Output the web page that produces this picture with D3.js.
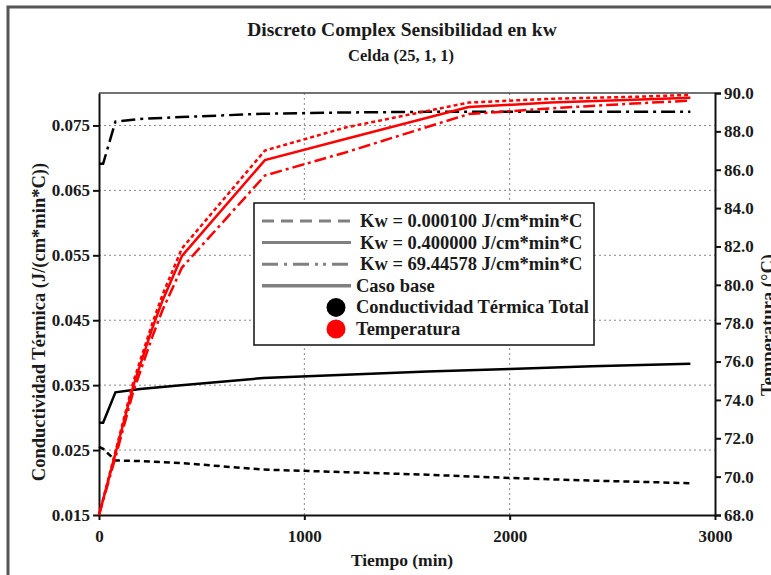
<!DOCTYPE html>
<html>
<head>
<meta charset="utf-8">
<script src="https://cdn.jsdelivr.net/npm/d3@7"></script>
<style>
  body { margin: 0; background: #fff; }
  svg text { font-family: "Liberation Serif", "Times New Roman", serif; font-weight: bold; fill: #1a1a1a; }
</style>
</head>
<body>
<svg id="chart" width="771" height="575"></svg>
<script>
/*******************************************************************************************/
// Data

var tCond = [0, 20, 80, 200, 400, 800, 1200, 1600, 2000, 2400, 2880];
var condKw1 = [0.0255, 0.0252, 0.0234, 0.0233, 0.0230, 0.0220, 0.0216, 0.0212, 0.0207, 0.0203, 0.0199];
var condKw2 = [0.0292, 0.0292, 0.0339, 0.0344, 0.0350, 0.0361, 0.0366, 0.0371, 0.0375, 0.0379, 0.0383];
var condKw3 = [0.0691, 0.0691, 0.0756, 0.0760, 0.0763, 0.0768, 0.0770, 0.0771, 0.0771, 0.0771, 0.0771];

var tTemp = [0, 80, 166, 260, 310, 404, 808, 1200, 1800, 2200, 2600, 2880];
var tempKw1 = [68, 71.3, 74.9, 78.0, 79.5, 81.9, 87.0, 88.2, 89.5, 89.7, 89.8, 89.9];
var tempKw2 = [68, 71.2, 74.7, 77.75, 79.2, 81.5, 86.5, 87.6, 89.27, 89.5, 89.65, 89.75];
var tempKw3 = [68, 71.0, 74.4, 77.3, 78.7, 80.9, 85.7, 86.9, 88.9, 89.2, 89.45, 89.6];

var xTicks = [0, 1000, 2000, 3000];
var condTicks = [0.015, 0.025, 0.035, 0.045, 0.055, 0.065, 0.075];
var tempTicks = [68, 70, 72, 74, 76, 78, 80, 82, 84, 86, 88, 90];

var legendItems = ['Kw = 0.000100 J/cm*min*C', 'Kw = 0.400000 J/cm*min*C', 'Kw = 69.44578 J/cm*min*C',
                   'Caso base', 'Conductividad Térmica Total', 'Temperatura'];

/*******************************************************************************************/
// Scales

var pLeft = 99, pRight = 715, pTop = 93, pBottom = 515;
var svg = d3.select('#chart');

var xScale = d3.scaleLinear().domain([0, 3000]).range([pLeft, pRight]);
var yCond = d3.scaleLinear().domain([0.015, 0.08]).range([pBottom, pTop]);
var yTemp = d3.scaleLinear().domain([68, 90]).range([pBottom, pTop]);

// outer frame
svg.append('path').attr('d', 'M8,575V7H771').attr('fill', 'none').attr('stroke', '#555').attr('stroke-width', 3);

// titles
svg.append('text').attr('x', 402).attr('y', 36).attr('text-anchor', 'middle').style('font-size', '19.5px')
   .text('Discreto Complex Sensibilidad en kw');
svg.append('text').attr('x', 401).attr('y', 61).attr('text-anchor', 'middle').style('font-size', '16.5px')
   .text('Celda (25, 1, 1)');

/*******************************************************************************************/
// Grid

var grid = svg.append('g').attr('stroke', '#888').attr('stroke-width', 1).attr('stroke-dasharray', '2,3');
condTicks.slice(1).forEach(function(v){
  grid.append('line').attr('x1', pLeft).attr('x2', pRight).attr('y1', yCond(v)).attr('y2', yCond(v));
});
[1000, 2000].forEach(function(v){
  grid.append('line').attr('x1', xScale(v)).attr('x2', xScale(v)).attr('y1', pTop).attr('y2', pBottom);
});

svg.append('line').attr('x1', pLeft).attr('x2', pRight).attr('y1', pTop).attr('y2', pTop)
   .attr('stroke', '#444').attr('stroke-width', 1.5);

/*******************************************************************************************/
// Axes

var xAxis = svg.append('g').attr('transform', 'translate(0,' + pBottom + ')')
  .call(d3.axisBottom(xScale).tickValues(xTicks).tickSize(5).tickSizeOuter(0).tickFormat(d3.format('d')));
var lAxis = svg.append('g').attr('transform', 'translate(' + pLeft + ',0)')
  .call(d3.axisLeft(yCond).tickValues(condTicks).tickSize(6).tickSizeOuter(0).tickFormat(d3.format('.3f')));
var rAxis = svg.append('g').attr('transform', 'translate(' + pRight + ',0)')
  .call(d3.axisRight(yTemp).tickValues(tempTicks).tickSize(6).tickSizeOuter(6).tickFormat(d3.format('.1f')));

[xAxis, lAxis, rAxis].forEach(function(a){
  a.selectAll('path, line').attr('stroke', '#111').attr('stroke-width', 2);
  a.selectAll('text').style('font-size', '17px').attr('fill', '#1a1a1a');
  a.attr('font-family', null);
});
xAxis.selectAll('text').attr('dy', '1.1em');

svg.append('text').attr('x', 402).attr('y', 566).attr('text-anchor', 'middle').style('font-size', '17.5px')
   .text('Tiempo (min)');
svg.append('text').attr('transform', 'translate(45,322) rotate(-90)').attr('text-anchor', 'middle')
   .style('font-size', '18.5px').text('Conductividad Térmica (J/(cm*min*C))');
svg.append('text').attr('transform', 'translate(774,325) rotate(-90)').attr('text-anchor', 'middle')
   .style('font-size', '18.5px').text('Temperatura (°C)');

/*******************************************************************************************/
// Lines

function drawLine(ts, vs, yScale, colour, dash){
  var line = d3.line().x(function(d){ return xScale(d[0]) }).y(function(d){ return yScale(d[1]) });
  svg.append('path').datum(d3.zip(ts, vs)).attr('d', line)
     .attr('fill', 'none').attr('stroke', colour).attr('stroke-width', 2.5)
     .attr('stroke-dasharray', dash);
}

drawLine(tCond, condKw1, yCond, '#000', '6,4');
drawLine(tCond, condKw2, yCond, '#000', null);
drawLine(tCond, condKw3, yCond, '#000', '14,5,3,5');

drawLine(tTemp, tempKw1, yTemp, '#f00', '4,3');
drawLine(tTemp, tempKw2, yTemp, '#f00', null);
drawLine(tTemp, tempKw3, yTemp, '#f00', '12,4,3,4');

/*******************************************************************************************/
// Legend

var legend = svg.append('g');
legend.append('rect').attr('x', 254).attr('y', 203).attr('width', 340).attr('height', 142)
      .attr('fill', '#fff').attr('stroke', '#111').attr('stroke-width', 1.5);

var legendDash = ['12,7', null, '16,6,3,6,16,6,3,5,3,6', null];
legendItems.forEach(function(name, i){
  var y = 221 + i * 21.6;
  if(i < 4){
    legend.append('line').attr('x1', 262).attr('x2', 351).attr('y1', y).attr('y2', y)
          .attr('stroke', '#808080').attr('stroke-width', i == 3 ? 3.5 : 3).attr('stroke-dasharray', legendDash[i]);
  } else {
    legend.append('circle').attr('cx', 336).attr('cy', y).attr('r', 9.5).attr('fill', i == 4 ? '#000' : '#f00');
  }
  legend.append('text').attr('x', i < 3 ? 360 : 356).attr('y', y + 6).style('font-size', '18.5px').text(name);
});
</script>
</body>
</html>
